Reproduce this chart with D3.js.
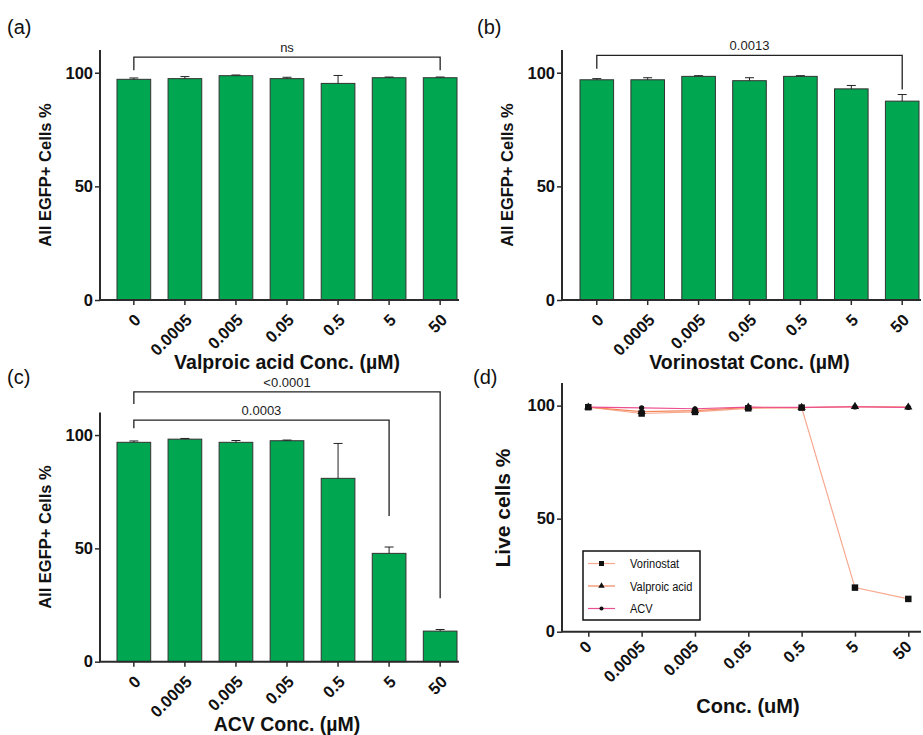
<!DOCTYPE html>
<html>
<head>
<meta charset="utf-8">
<script src="https://cdn.jsdelivr.net/npm/d3@7"></script>
<style>
  body { margin: 0; background: #fff; }
  svg { font-family: "Liberation Sans", Arial, Helvetica, sans-serif; }
  .tick text { font-weight: bold; font-size: 16.5px; fill: #111; }
  .axis-title { font-weight: bold; fill: #111; }
</style>
</head>
<body>
<svg id="mainCanvas" width="923" height="735"></svg>
<script>
// ---- data ----
var concLabels = ['0', '0.0005', '0.005', '0.05', '0.5', '5', '50'];
var yTicks = [0, 50, 100];

var valproicMean = [97.1, 97.4, 98.7, 97.4, 95.3, 97.8, 97.8];
var valproicErr  = [0.6, 0.9, 0.3, 0.6, 3.5, 0.3, 0.3];

var vorinostatMean = [96.9, 96.9, 98.4, 96.5, 98.4, 92.9, 87.5];
var vorinostatErr  = [0.5, 0.9, 0.3, 1.3, 0.3, 1.5, 2.9];

var acvMean = [96.8, 98.2, 96.8, 97.5, 80.9, 47.8, 13.5];
var acvErr  = [0.6, 0.3, 0.8, 0.3, 15.4, 2.8, 0.7];

// significance brackets: level and tick ends in data units
var valproicBrackets = [{ from: '0', to: '50', label: 'ns', level: 106.9, leftEnd: 101.1, rightEnd: 101.1 }];
var vorinostatBrackets = [{ from: '0', to: '50', label: '0.0013', level: 107.6, leftEnd: 101.8, rightEnd: 92.6 }];
var acvBrackets = [
    { from: '0', to: '5', label: '0.0003', level: 106.6, leftEnd: 103, rightEnd: 64.3 },
    { from: '0', to: '50', label: '<0.0001', level: 119.1, leftEnd: 113.7, rightEnd: 28 }
];

// live cells (panel d)
var liveSeriesNames = ['Vorinostat', 'Valproic acid', 'ACV'];
var liveVorinostat = [99.3, 96.5, 97.2, 98.8, 99.1, 19.5, 14.5];
var liveValproic   = [99.3, 97.3, 97.8, 99.2, 99.1, 99.6, 99.3];
var liveAcv        = [99.3, 99.0, 98.6, 99.3, 99.2, 99.4, 99.2];

var barColor = '#00a650';
var axisColor = '#2b2b2b';
var lineColors = ['#f7a88f', '#f4875c', '#ec4f8f'];

var svg = d3.select('#mainCanvas');

function panelLabel(text, x, y) {
    svg.append('text').attr('x', x).attr('y', y)
       .attr('font-size', 20).attr('fill', '#111').text(text);
}

function xTickLabels(axisG, dx, dy) {
    axisG.selectAll('.tick text')
         .attr('text-anchor', 'end')
         .attr('dy', null)
         .attr('y', null)
         .attr('transform', 'translate(' + dx + ',' + dy + ') rotate(-45)');
}

function styleAxis(axisG) {
    axisG.selectAll('.tick line').attr('stroke', axisColor).attr('stroke-width', 1.5);
    axisG.select('.domain').remove();
}

function barPanel(cfg) {
    var g = svg.append('g');
    var y = d3.scaleLinear().domain([0, 110]).range([cfg.bottom, cfg.top]);
    var x = d3.scaleBand().domain(concLabels).range([cfg.bandStart, cfg.bandEnd])
              .paddingInner(0.34).paddingOuter(0);

    // bars
    g.selectAll('.bar').data(cfg.means).enter().append('rect')
     .attr('class', 'bar')
     .attr('x', function(d, i) { return x(concLabels[i]); })
     .attr('y', function(d) { return y(d); })
     .attr('width', x.bandwidth())
     .attr('height', function(d) { return y(0) - y(d); })
     .attr('fill', barColor)
     .attr('stroke', '#333')
     .attr('stroke-width', 1);

    // error bars (upper only)
    var eb = g.selectAll('.err').data(cfg.means).enter().append('g').attr('class', 'err');
    eb.append('line')
      .attr('x1', function(d, i) { return x(concLabels[i]) + x.bandwidth() / 2; })
      .attr('x2', function(d, i) { return x(concLabels[i]) + x.bandwidth() / 2; })
      .attr('y1', function(d) { return y(d); })
      .attr('y2', function(d, i) { return y(d + cfg.errs[i]); })
      .attr('stroke', '#222').attr('stroke-width', 1);
    eb.append('line')
      .attr('x1', function(d, i) { return x(concLabels[i]) + x.bandwidth() / 2 - 4.5; })
      .attr('x2', function(d, i) { return x(concLabels[i]) + x.bandwidth() / 2 + 4.5; })
      .attr('y1', function(d, i) { return y(d + cfg.errs[i]); })
      .attr('y2', function(d, i) { return y(d + cfg.errs[i]); })
      .attr('stroke', '#222').attr('stroke-width', 1);

    // axes
    var yAxis = g.append('g').attr('transform', 'translate(' + cfg.left + ',0)')
                 .call(d3.axisLeft(y).tickValues(yTicks).tickSize(5).tickPadding(2).tickSizeOuter(0));
    styleAxis(yAxis);
    var xAxis = g.append('g').attr('transform', 'translate(0,' + y(0) + ')')
                 .call(d3.axisBottom(x).tickSize(5).tickSizeOuter(0));
    styleAxis(xAxis);
    xTickLabels(xAxis, 8, 21);

    g.append('line').attr('x1', cfg.left).attr('x2', cfg.left)
     .attr('y1', y(0)).attr('y2', y(110))
     .attr('stroke', axisColor).attr('stroke-width', 2);
    g.append('line').attr('x1', cfg.left - 1).attr('x2', cfg.right)
     .attr('y1', y(0)).attr('y2', y(0))
     .attr('stroke', axisColor).attr('stroke-width', 2);

    // brackets
    cfg.brackets.forEach(function(b) {
        var x1 = x(b.from) + x.bandwidth() / 2;
        var x2 = x(b.to) + x.bandwidth() / 2;
        g.append('path')
         .attr('d', 'M' + x1 + ',' + y(b.leftEnd) + 'V' + y(b.level) + 'H' + x2 + 'V' + y(b.rightEnd))
         .attr('fill', 'none').attr('stroke', '#222').attr('stroke-width', 1.3);
        g.append('text').attr('x', (x1 + x2) / 2).attr('y', y(b.level) - 5)
         .attr('text-anchor', 'middle').attr('font-size', 13).attr('fill', '#222')
         .text(b.label);
    });

    // titles
    g.append('text').attr('class', 'axis-title')
     .attr('transform', 'translate(' + (cfg.left - 49) + ',' + (y(0) + y(110)) / 2 + ') rotate(-90)')
     .attr('text-anchor', 'middle').attr('font-size', 16.5)
     .text('All EGFP+ Cells %');
    g.append('text').attr('class', 'axis-title')
     .attr('x', (cfg.bandStart + cfg.bandEnd) / 2).attr('y', cfg.titleY)
     .attr('text-anchor', 'middle').attr('font-size', 19.5)
     .text(cfg.title);
}

barPanel({ left: 100, right: 459, top: 50, bottom: 300, bandStart: 117, bandEnd: 457,
           means: valproicMean, errs: valproicErr, brackets: valproicBrackets,
           title: 'Valproic acid Conc. (\u00b5M)', titleY: 369 });
barPanel({ left: 562, right: 921, top: 50, bottom: 300, bandStart: 580, bandEnd: 919,
           means: vorinostatMean, errs: vorinostatErr, brackets: vorinostatBrackets,
           title: 'Vorinostat Conc. (\u00b5M)', titleY: 369 });
barPanel({ left: 100, right: 459, top: 412.4, bottom: 661.7, bandStart: 117, bandEnd: 457,
           means: acvMean, errs: acvErr, brackets: acvBrackets,
           title: 'ACV Conc. (\u00b5M)', titleY: 731 });

// ---- panel (d): live cells line chart ----
(function() {
    var left = 562, right = 921, top = 383, bottom = 631.7;
    var g = svg.append('g');
    var y = d3.scaleLinear().domain([0, 110]).range([bottom, top]);
    var x = d3.scalePoint().domain(concLabels).range([588.3, 908.3]);
    var series = [liveVorinostat, liveValproic, liveAcv];
    var symbols = [d3.symbolSquare, d3.symbolTriangle, d3.symbolCircle];
    var symSizes = [42, 30, 22];

    var line = d3.line()
        .x(function(d, i) { return x(concLabels[i]); })
        .y(function(d) { return y(d); });

    series.forEach(function(s, k) {
        g.append('path').datum(s)
         .attr('d', line)
         .attr('fill', 'none')
         .attr('stroke', lineColors[k])
         .attr('stroke-width', 1.2);
    });
    series.forEach(function(s, k) {
        g.selectAll('.pt' + k).data(s).enter().append('path')
         .attr('class', 'pt' + k)
         .attr('transform', function(d, i) { return 'translate(' + x(concLabels[i]) + ',' + y(d) + ')'; })
         .attr('d', d3.symbol().type(symbols[k]).size(symSizes[k]))
         .attr('fill', '#111');
    });

    var yAxis = g.append('g').attr('transform', 'translate(' + left + ',0)')
                 .call(d3.axisLeft(y).tickValues(yTicks).tickSize(5).tickPadding(2).tickSizeOuter(0));
    styleAxis(yAxis);
    var xAxis = g.append('g').attr('transform', 'translate(0,' + y(0) + ')')
                 .call(d3.axisBottom(x).tickSize(5).tickSizeOuter(0));
    styleAxis(xAxis);
    xTickLabels(xAxis, 4, 16);

    g.append('line').attr('x1', left).attr('x2', left)
     .attr('y1', y(0)).attr('y2', y(110))
     .attr('stroke', axisColor).attr('stroke-width', 2);
    g.append('line').attr('x1', left - 1).attr('x2', right)
     .attr('y1', y(0)).attr('y2', y(0))
     .attr('stroke', axisColor).attr('stroke-width', 2);

    // legend
    var lg = g.append('g').attr('transform', 'translate(583,551)');
    lg.append('rect').attr('width', 117).attr('height', 69)
      .attr('fill', '#fff').attr('stroke', '#111').attr('stroke-width', 1.5);
    liveSeriesNames.forEach(function(name, k) {
        var yy = 12.5 + k * 22.5;
        lg.append('line').attr('x1', 5).attr('x2', 32).attr('y1', yy).attr('y2', yy)
          .attr('stroke', lineColors[k]).attr('stroke-width', 1.2);
        lg.append('path').attr('transform', 'translate(18.5,' + yy + ')')
          .attr('d', d3.symbol().type(symbols[k]).size(symSizes[k] * 0.6))
          .attr('fill', '#111');
        // condensed look of the original legend font
        lg.append('text')
          .attr('transform', 'translate(47,' + (yy + 4.5) + ') scale(0.82,1)')
          .attr('font-size', 13.5).attr('fill', '#111')
          .text(name);
    });

    g.append('text').attr('class', 'axis-title')
     .attr('transform', 'translate(' + 510 + ',' + 508 + ') rotate(-90)')
     .attr('text-anchor', 'middle').attr('font-size', 21)
     .text('Live cells %');
    g.append('text').attr('class', 'axis-title')
     .attr('x', 748).attr('y', 713)
     .attr('text-anchor', 'middle').attr('font-size', 20)
     .text('Conc. (uM)');
})();

panelLabel('(a)', 7, 34);
panelLabel('(b)', 477, 34);
panelLabel('(c)', 7, 384);
panelLabel('(d)', 473, 384);
</script>
</body>
</html>
